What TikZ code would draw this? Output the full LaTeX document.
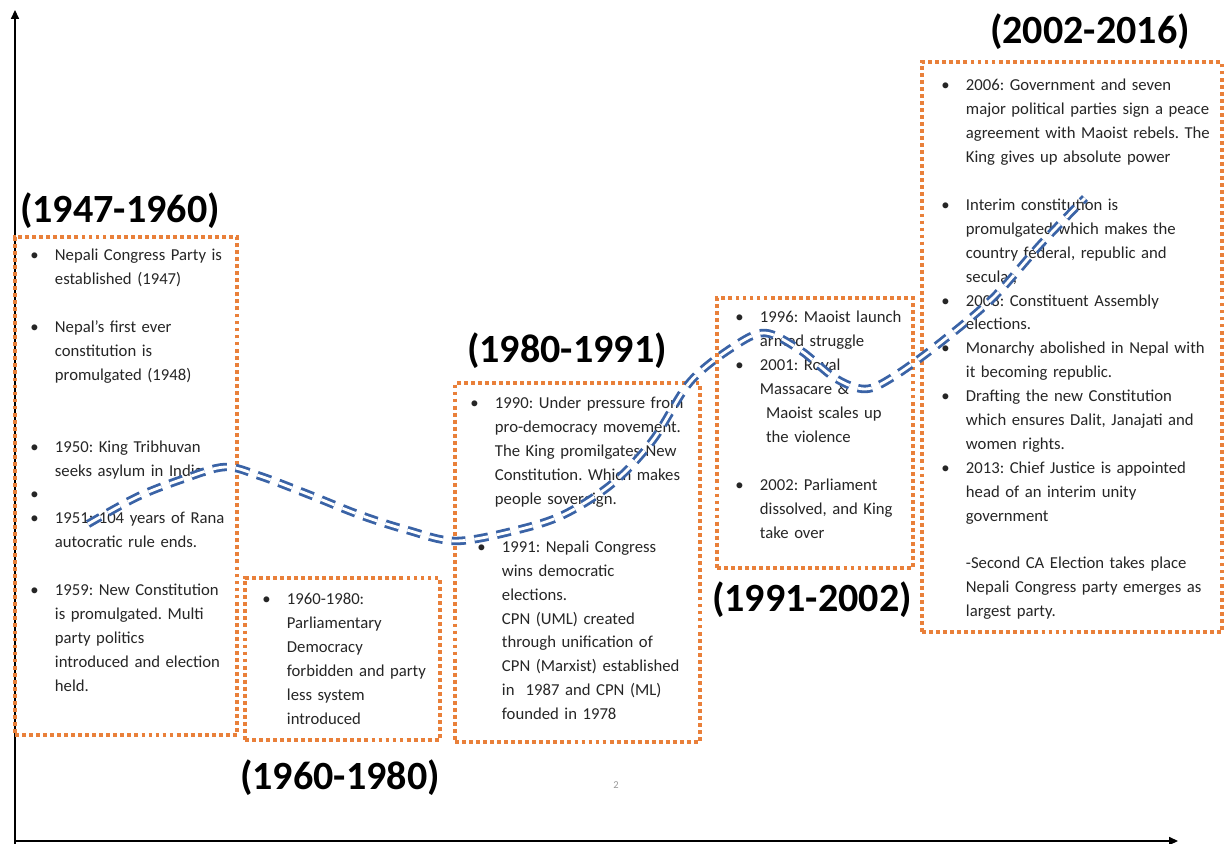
\documentclass[tikz,border=0pt]{standalone}
\usepackage{fontspec}
\setmainfont{Carlito}
\usetikzlibrary{arrows.meta}
\definecolor{Ink}{HTML}{262626}
\definecolor{EraOrange}{HTML}{E9803A}
\definecolor{WaveBlue}{HTML}{3A63A6}
\definecolor{Muted}{HTML}{9A9A9A}
\newlength{\bulsep}
\setlength{\bulsep}{14pt}
\newcommand{\evfont}{\fontsize{9.5}{13.6}\selectfont\frenchspacing}
\newcommand{\erafont}{\fontsize{22.8}{26}\selectfont\bfseries}
\newcommand{\evt}[2][0pt]{{\def\\{\newline}\noindent\leftskip=#1\relax
  \hangindent=\bulsep\hangafter=1%
  \makebox[\bulsep][l]{\textbullet}#2\par}}
\newcommand{\gapline}{\vspace{\baselineskip}}

\begin{document}
\begin{tikzpicture}[x=0.02cm, y=-0.02cm,
    era/.style={draw=EraOrange, line width=2pt, dash pattern=on 2.2pt off 1.8pt,
      inner sep=0pt},
    events/.style={anchor=base west, inner sep=0pt,
      font=\evfont, text=Ink},
    year/.style={font=\erafont, text=black, inner sep=0pt},
    axis/.style={draw=black, line width=0.8pt,
      -{Triangle[length=5pt,width=4.5pt]}},
    wave/.style={draw=WaveBlue, line width=1.6pt, double=white,
      double distance=1.6pt, dash pattern=on 8pt off 5pt}
  ]
  \path[use as bounding box, fill=white] (0,0) rectangle (1225,844);

  % axes
  \coordinate (origin) at (15,841);
  \coordinate (ytip) at (15,10);
  \coordinate (xtip) at (1178,841);
  \draw[axis] (15,844) -- (ytip);
  \draw[axis] (origin) -- (xtip);

  % era boxes
  \node[era, minimum width=4.44cm, minimum height=9.96cm] (box1) at (126,486) {};
  \node[era, minimum width=3.9cm, minimum height=3.24cm] (box2) at (342.5,659) {};
  \node[era, minimum width=4.9cm, minimum height=7.18cm] (box3) at (577.5,562.5) {};
  \node[era, minimum width=3.92cm, minimum height=5.4cm] (box4) at (815,433) {};
  \node[era, minimum width=6.0cm, minimum height=11.4cm] (box5) at (1072,347) {};

  % era titles
  \node[year] (yr1) at (120,211) {(1947-1960)};
  \node[year] (yr2) at (340,778) {(1960-1980)};
  \node[year] (yr3) at (567,351) {(1980-1991)};
  \node[year] (yr4) at (812,600) {(1991-2002)};
  \node[year] (yr5) at (1090,32) {(2002-2016)};

  % events
  \node[events, text width=4.3cm] (ev1) at (30,261) {%
    \evt{Nepali Congress Party is\\established (1947)}
    \gapline
    \evt{Nepal's first ever\\constitution is\\promulgated (1948)}
    \gapline\gapline
    \evt{1950: King Tribhuvan\\seeks asylum in India.}
    \evt{}
    \evt{1951: 104 years of Rana\\autocratic rule ends.}
    \gapline
    \evt{1959: New Constitution\\is promulgated. Multi\\party politics\\introduced and election\\held.}};
  \node[events, text width=3.7cm] (ev2) at (262,605) {%
    \evt{1960-1980:\\Parliamentary\\Democracy\\forbidden and party\\less system\\introduced}};
  \node[events, text width=4.6cm] (ev3) at (470,409) {%
    \evt{1990: Under pressure from\\pro-democracy movement.\\The King promilgates New\\Constitution. Which makes\\people sovereign.}
    \gapline
    \evt[4pt]{1991: Nepali Congress\\wins democratic\\elections.\\CPN (UML) created\\through unification of\\CPN (Marxist) established\\in~ 1987 and CPN (ML)\\founded in 1978}};
  \node[events, text width=3.7cm] (ev4) at (735,323) {%
    \evt{1996: Maoist launch\\armed struggle}
    \evt{2001: Royal\\Massacare \&\\\hspace*{3.5pt}Maoist scales up\\\hspace*{3.5pt}the violence}
    \gapline
    \evt{2002: Parliament\\dissolved, and King\\take over}};
  \node[events, text width=5.6cm] (ev5) at (941,91) {%
    \evt{2006: Government and seven\\major political parties sign a peace\\agreement with Maoist rebels. The\\King gives up absolute power}
    \gapline
    \evt{Interim constitution is\\promulgated which makes the\\country federal, republic and\\secular,}
    \evt{2008: Constituent Assembly\\elections.}
    \evt{Monarchy abolished in Nepal with\\it becoming republic.}
    \evt{Drafting the new Constitution\\which ensures Dalit, Janajati and\\women rights.}
    \evt{2013: Chief Justice is appointed\\head of an interim unity\\government}
    \gapline
    {\def\\{\newline}\leftskip=\bulsep\noindent -Second CA Election takes place\\Nepali Congress party emerges as\\largest party.\par}};

  % page mark
  \node[font=\fontsize{6}{7}\selectfont, text=Muted, inner sep=0pt] (pg) at (616,785) {2};

  % trend line
  \draw[wave] plot[smooth, tension=0.55] coordinates {
    (88,524) (137,497) (183,479) (225,467) (260,476) (310,495) (360,515)
    (407,530) (455,541) (513,531) (563,515) (613,483) (653,440) (690,382)
    (733,347) (765,333) (800,350) (835,378) (865,389) (893,377) (940,343)
    (993,298) (1040,245) (1085,198)};
\end{tikzpicture}
\end{document}
